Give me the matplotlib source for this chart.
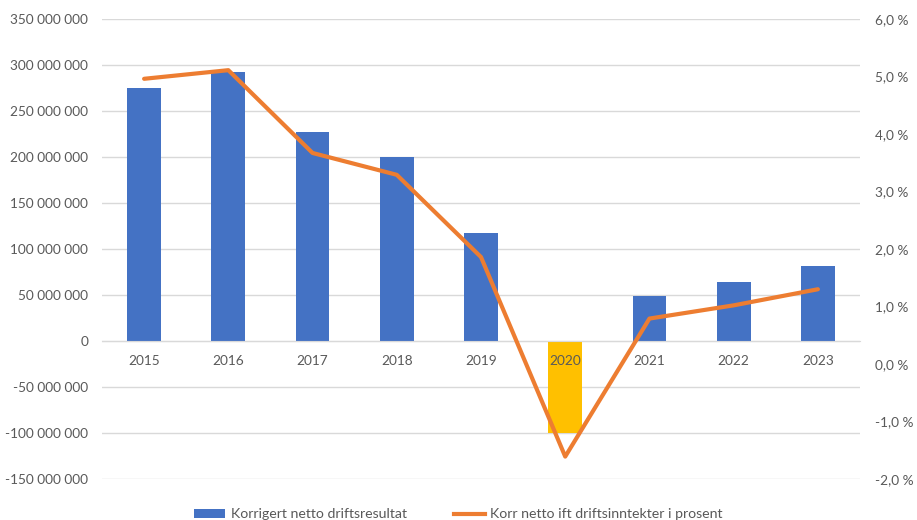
import matplotlib

matplotlib.use("Agg")
import matplotlib.pyplot as plt
from matplotlib.lines import Line2D
from matplotlib.patches import Patch
from matplotlib.ticker import FixedLocator, FuncFormatter

plt.rcParams["font.family"] = ["Lato", "DejaVu Sans"]

# data
years = ["2015", "2016", "2017", "2018", "2019", "2020", "2021", "2022", "2023"]
resultat = [275e6, 292e6, 227e6, 200e6, 117e6, -100e6, 49e6, 64e6, 81e6]
prosent = [4.96, 5.11, 3.67, 3.29, 1.86, -1.61, 0.79, 1.02, 1.30]
bar_colors = ["#4472C4"] * 5 + ["#FFC000"] + ["#4472C4"] * 3

left_ticks = [-150e6, -100e6, -50e6, 0, 50e6, 100e6, 150e6, 200e6, 250e6, 300e6, 350e6]
right_ticks = [-2, -1, 0, 1, 2, 3, 4, 5, 6]

TXT = "#595959"
GRID = "#D9D9D9"
FS = 9.8

fig = plt.figure(figsize=(9.17, 5.20), dpi=100)
ax = fig.add_axes([102 / 917, 1 - 479 / 520, 758 / 917, 460 / 520])
ax2 = ax.twinx()

x = list(range(len(years)))
ax.bar(x, resultat, width=0.4, color=bar_colors, zorder=1)
ax.set_xlim(-0.5, len(years) - 0.5)
ax.set_ylim(-150e6, 350e6)
ax.yaxis.set_major_locator(FixedLocator(left_ticks))
ax.yaxis.set_major_formatter(FuncFormatter(lambda v, p: f"{v:,.0f}".replace(",", " ")))
ax.set_axisbelow(True)
ax.grid(axis="y", color=GRID, linewidth=1)

ax.set_xticks(x)
ax.set_xticklabels(years)
ax.xaxis.set_zorder(2)  # year labels sit over the 2020 bar
ax.spines["bottom"].set_position(("data", 0))
ax.spines["bottom"].set_color(GRID)
for s in ("top", "left", "right"):
    ax.spines[s].set_visible(False)
ax.tick_params(axis="x", length=0, pad=10, colors=TXT, labelsize=FS)
ax.tick_params(axis="y", length=0, pad=10, colors=TXT, labelsize=FS)

ax2.plot(x, prosent, color="#ED7D31", linewidth=3, solid_capstyle="round",
         solid_joinstyle="round", zorder=3)
ax2.set_ylim(-2, 6)
ax2.yaxis.set_major_locator(FixedLocator(right_ticks))
ax2.yaxis.set_major_formatter(FuncFormatter(lambda v, p: f"{v:.1f}".replace(".", ",") + " %"))
for s in ax2.spines.values():
    s.set_visible(False)
ax2.tick_params(axis="y", length=0, pad=11, colors=TXT, labelsize=FS)

handles = [
    Patch(facecolor="#4472C4", edgecolor="none"),
    Line2D([0], [0], color="#ED7D31", linewidth=3),
]
labels = ["Korrigert netto driftsresultat", "Korr netto ift driftsinntekter i prosent"]
fig.legend(handles, labels, loc="lower center", bbox_to_anchor=(0.5, -0.025), ncol=2,
           frameon=False, fontsize=FS + 0.4, labelcolor=TXT, handlelength=2.2,
           handleheight=0.6, handletextpad=0.4, columnspacing=3.3)

fig.savefig("out.png", dpi=100)
